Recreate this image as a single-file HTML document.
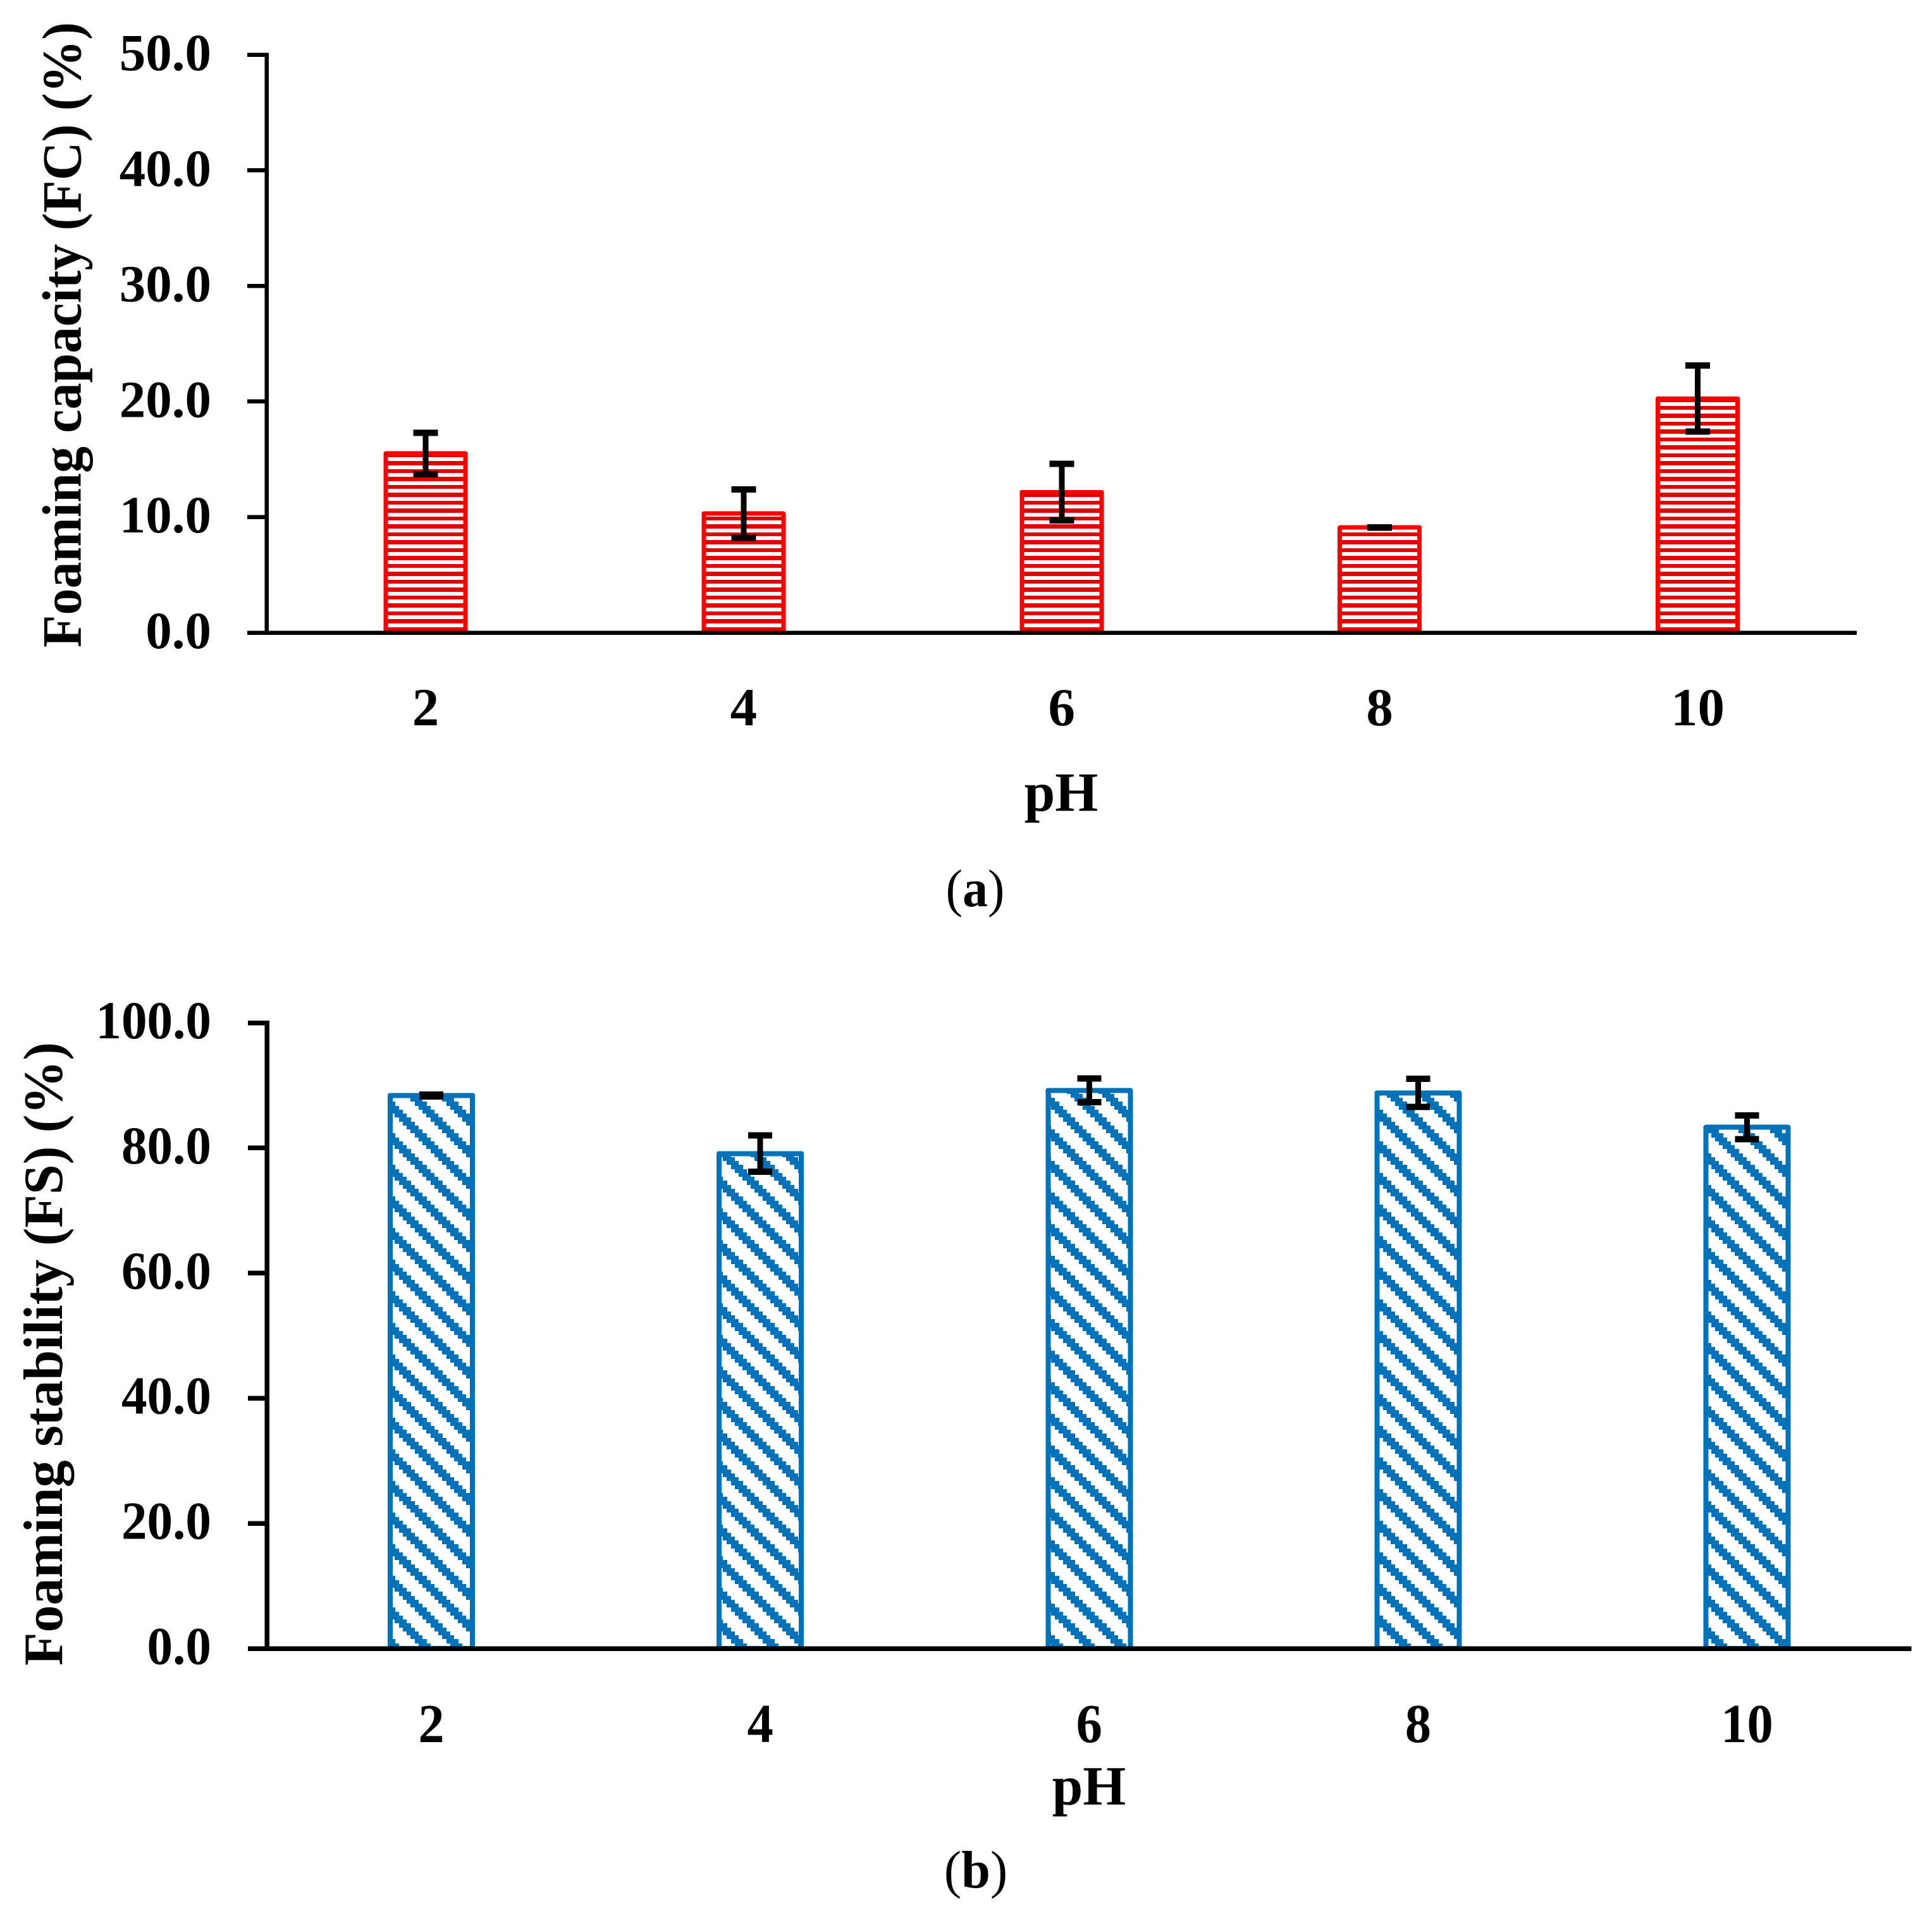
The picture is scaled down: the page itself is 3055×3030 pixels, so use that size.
<!DOCTYPE html>
<html lang="en">
<head>
<meta charset="utf-8">
<title>Foaming capacity and foaming stability by pH</title>
<style>
html,body{margin:0;padding:0;background:#fff;}
svg{display:block;}
text{font-family:"Liberation Serif",serif;fill:#000;}
</style>
</head>
<body>
<svg id="figure" xmlns="http://www.w3.org/2000/svg" width="3055" height="3030" viewBox="0 0 3055 3030">
  <defs>
    <pattern id="stripes" patternUnits="userSpaceOnUse" x="0" y="4" width="25" height="25">
      <rect x="0" y="0" width="25" height="7" fill="#e00000" shape-rendering="crispEdges"/>
      <rect x="0" y="13" width="25" height="6" fill="#e00000" shape-rendering="crispEdges"/>
    </pattern>
    <pattern id="hatch" patternUnits="userSpaceOnUse" x="37" y="24" width="50" height="50">
      <g fill="#0072ba" shape-rendering="crispEdges">
        <rect x="0" y="0" width="19" height="6"/>
        <rect x="6" y="6" width="19" height="6"/>
        <rect x="12" y="12" width="19" height="6"/>
        <rect x="19" y="18" width="19" height="7"/>
        <rect x="25" y="25" width="19" height="6"/>
        <rect x="31" y="31" width="19" height="6"/>
        <rect x="37" y="37" width="13" height="6"/>
        <rect x="0" y="37" width="6" height="6"/>
        <rect x="44" y="43" width="6" height="7"/>
        <rect x="0" y="43" width="13" height="7"/>
      </g>
    </pattern>
  </defs>
  <g id="chart-a"></g>
  <g id="chart-b"></g>
  <text transform="translate(1542,1433) scale(0.95,1)" text-anchor="middle" font-size="84">(<tspan font-weight="bold">a</tspan>)</text>
  <text transform="translate(1543,2985) scale(0.98,1)" text-anchor="middle" font-size="84">(<tspan font-weight="bold">b</tspan>)</text>
</svg>
<script>
var phCategories = ['2', '4', '6', '8', '10'];

var fcValues = [15.5, 10.3, 12.15, 9.1, 20.25];
var fcErrors = [1.8, 2.1, 2.45, 0.02, 2.85];
var fcTicks = [0, 10, 20, 30, 40, 50];

var fsValues = [88.4, 79.1, 89.2, 88.8, 83.3];
var fsErrors = [0.15, 2.9, 1.9, 2.25, 1.9];
var fsTicks = [0, 20, 40, 60, 80, 100];

var SVGNS = 'http://www.w3.org/2000/svg';

function make(parent, tag, attrs, content) {
  var node = document.createElementNS(SVGNS, tag);
  for (var key in attrs) { node.setAttribute(key, attrs[key]); }
  if (content !== undefined) { node.textContent = content; }
  parent.appendChild(node);
  return node;
}

function drawChart(opts) {
  var root = document.getElementById(opts.rootId);
  var yMax = opts.ticks[opts.ticks.length - 1];
  function yScale(v) { return opts.y0 - (v / yMax) * (opts.y0 - opts.yTop); }
  var band = (opts.xEnd - opts.xAxis) / opts.categories.length;
  function xScale(i) { return opts.xAxis + band * (i + 0.5); }
  var el;

  opts.categories.forEach(function (cat, i) {
    var cx = xScale(i);
    var top = yScale(opts.values[i]);
    el = make(root, 'rect', {
      x: cx - opts.barW / 2, y: top, width: opts.barW, height: opts.y0 - top,
      fill: opts.fill, stroke: opts.color, 'stroke-width': opts.barStroke,
      'stroke-linejoin': 'round', 'shape-rendering': 'crispEdges'
    });
    
    

    var hi = yScale(opts.values[i] + opts.errors[i]);
    var lo = yScale(opts.values[i] - opts.errors[i]);
    el = make(root, 'rect', {
      x: cx - 4.5, y: hi, width: 9, height: lo - hi, fill: '#000', 'shape-rendering': 'crispEdges'
    });
    
    
    el = make(root, 'rect', {
      x: cx - opts.capW / 2, y: hi - 5, width: opts.capW, height: 10, fill: '#000', 'shape-rendering': 'crispEdges'
    });
    
    
    el = make(root, 'rect', {
      x: cx - opts.capW / 2, y: lo - 5, width: opts.capW, height: 10, fill: '#000', 'shape-rendering': 'crispEdges'
    });
    
    

    el = make(root, 'text', {
      transform: 'translate(' + cx + ',' + opts.xLabelY + ') scale(' + opts.xLabelSx + ',1)',
      'text-anchor': 'middle', 'font-size': opts.xLabelSize, 'font-weight': 'bold'
    }, cat);
    
    
  });

  el = make(root, 'rect', {
    x: opts.xAxis - opts.axisW / 2, y: opts.yTop - opts.axisW / 2,
    width: opts.axisW, height: opts.y0 - opts.yTop + opts.axisW, fill: '#000', 'shape-rendering': 'crispEdges'
  });
  
  
  el = make(root, 'rect', {
    x: opts.xAxis - opts.axisW / 2, y: opts.y0 - opts.axisW / 2,
    width: opts.xEnd - opts.xAxis + opts.axisW / 2, height: opts.axisW, fill: '#000', 'shape-rendering': 'crispEdges'
  });
  
  

  opts.ticks.forEach(function (t) {
    var y = yScale(t);
    el = make(root, 'rect', {
      x: opts.tickLeft, y: y - opts.axisW / 2, width: opts.xAxis - opts.tickLeft,
      height: opts.axisW, fill: '#000', 'shape-rendering': 'crispEdges'
    });
    
    
    el = make(root, 'text', {
      transform: 'translate(334,' + (y + 24.5) + ') scale(' + opts.yLabelSx + ',1)',
      'text-anchor': 'end', 'font-size': opts.yLabelSize, 'font-weight': 'bold'
    }, t.toFixed(1));
    
    
  });

  el = make(root, 'text', {
    transform: 'translate(' + opts.yTitleX + ',' + opts.yTitleY + ') rotate(-90)',
    'text-anchor': 'middle', 'font-size': 88, 'font-weight': 'bold',
    textLength: opts.yTitleLen, lengthAdjust: 'spacingAndGlyphs'
  }, opts.yTitle);
  
  

  el = make(root, 'text', {
    x: opts.xTitleX, y: opts.xTitleY, 'text-anchor': 'middle', 'font-size': 87.5, 'font-weight': 'bold'
  }, 'pH');
  
  
}

drawChart({
  rootId: 'chart-a', categories: phCategories, values: fcValues, errors: fcErrors, ticks: fcTicks,
  y0: 1000.5, yTop: 86.5, xAxis: 421.5, xEnd: 2936, tickLeft: 391, axisW: 6.5,
  barW: 126, barStroke: 7, capW: 39, color: '#ff0000', fill: 'url(#stripes)',
  xLabelY: 1147, xLabelSize: 85, xLabelSx: 1, yLabelSize: 83, yLabelSx: 1,
  yTitle: 'Foaming capacity (FC) (%)', yTitleX: 127.5, yTitleY: 529.5, yTitleLen: 989,
  xTitleX: 1678, xTitleY: 1282.7
});

drawChart({
  rootId: 'chart-b', categories: phCategories, values: fsValues, errors: fsErrors, ticks: fsTicks,
  y0: 2607, yTop: 1617.5, xAxis: 422, xEnd: 3022.5, tickLeft: 392, axisW: 7.5,
  barW: 130, barStroke: 8, capW: 38, color: '#0072ba', fill: 'url(#hatch)',
  xLabelY: 2755, xLabelSize: 87, xLabelSx: 0.95, yLabelSize: 85, yLabelSx: 0.955,
  yTitle: 'Foaming stability (FS) (%)', yTitleX: 98, yTitleY: 2141, yTitleLen: 986,
  xTitleX: 1722, xTitleY: 2854
});
</script>
</body>
</html>
